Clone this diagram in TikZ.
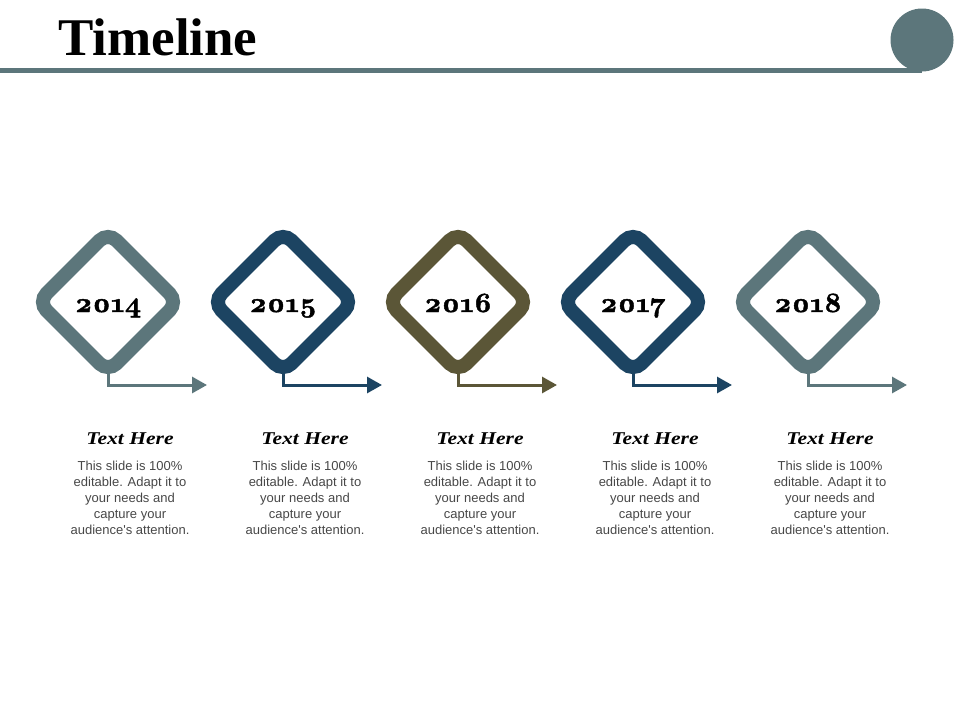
\documentclass[tikz,border=0pt]{standalone}
\usepackage{fontspec}
\setmainfont{Liberation Serif}
\newfontfamily\bodyfont{Liberation Sans}
\newfontfamily\headfont[FakeStretch=1.2]{Liberation Serif}
\newfontfamily\yearfont{lmroman10-bold.otf}[Numbers=OldStyle, FakeBold=1.5]
\usetikzlibrary{arrows.meta,shapes.geometric,positioning}
\definecolor{slate}{HTML}{5C767B}
\definecolor{navy}{HTML}{1C4462}
\definecolor{olive}{HTML}{5B5637}
\tikzstyle{stepbox}=[diamond, line width=14pt, rounded corners=12pt, minimum size=140pt, inner sep=0pt, outer sep=0pt]
\tikzstyle{yearlab}=[font=\yearfont\fontsize{28}{30}\selectfont, text height=14pt, text depth=6pt, yshift=-6pt]
\tikzstyle{pointer}=[line width=3pt, -{Triangle[length=15pt,width=16pt]}]
\tikzstyle{head}=[font=\headfont\bfseries\itshape\fontsize{18}{22}\selectfont, inner sep=0pt]
\tikzstyle{body}=[font=\bodyfont\fontsize{13}{16}\selectfont, text=black!72, align=center, inner sep=0pt]
\newcommand{\yearStep}[3]{
  \node at (#1,302) [stepbox, draw=#3, label={[yearlab]center:#2}] (d#2) {};
  \coordinate (e#2) at (#1+99,385);
  \draw [pointer, draw=#3] (d#2.south) |- (e#2);
  \node at (#1+22,444) [head, anchor=base] (h#2) {Text Here};
  \node [body, below=16pt of h#2] (b#2) {This slide is 100\%\\ editable. Adapt it to\\ your needs and\\ capture your\\ audience's attention.};
}

\begin{document}
\begin{tikzpicture}[x=1pt,y=-1pt]
          \useasboundingbox (0,0) rectangle (960,720);
          % title bar
          \node at (58,55) [anchor=base west, inner sep=0pt, font=\bfseries\fontsize{53}{58}\selectfont] (title) {Timeline};
          \node at (922,40) [circle, fill=slate, minimum size=63pt, inner sep=0pt] (dot) {};
          \coordinate (bar) at (0,70);
          \draw [slate, line width=5pt] (bar) -- (bar -| dot.center);
          % years
          \yearStep{108}{2014}{slate}
          \yearStep{283}{2015}{navy}
          \yearStep{458}{2016}{olive}
          \yearStep{633}{2017}{navy}
          \yearStep{808}{2018}{slate}
        \end{tikzpicture}
\end{document}
